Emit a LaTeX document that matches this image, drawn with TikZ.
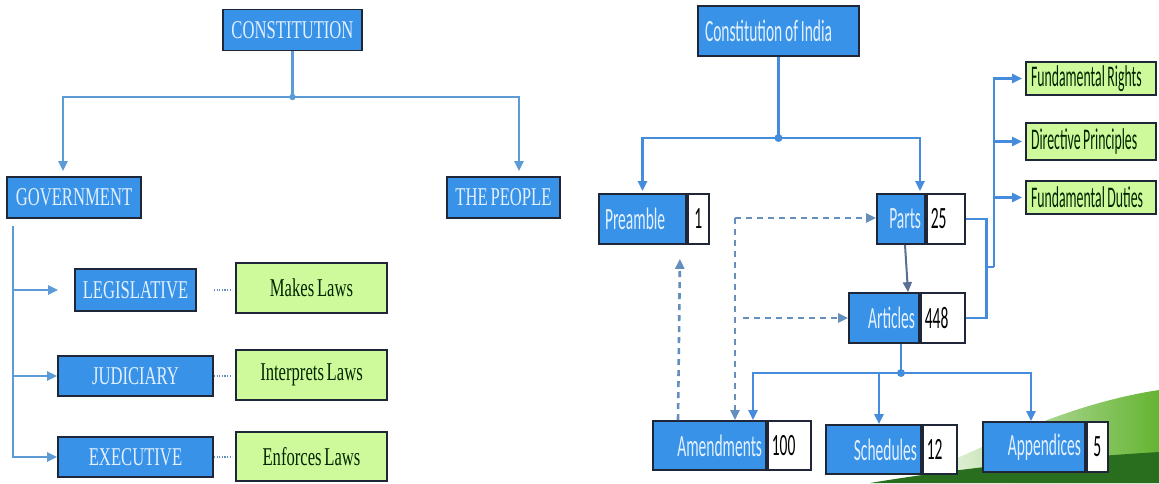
\documentclass[tikz,border=0pt]{standalone}
\usepackage{fontspec}
\usepackage{tikz}
\usetikzlibrary{positioning, arrows.meta, calc}
\newfontfamily\serifcond[FakeStretch=0.65, WordSpace=0.65]{Liberation Serif}
\newfontfamily\sanscond[FakeStretch=0.5, WordSpace=0.8]{Carlito}
\newfontfamily\sansnarrow[FakeStretch=0.46, WordSpace=0.8]{Carlito}
\definecolor{boxblue}{RGB}{56,146,232}
\definecolor{boxline}{RGB}{30,38,56}
\definecolor{lawgreen}{RGB}{207,250,155}
\definecolor{linkblue}{RGB}{70,140,220}
\definecolor{leftlink}{RGB}{92,155,213}
\definecolor{dashblue}{RGB}{100,142,188}
\definecolor{greylink}{RGB}{90,110,150}
\definecolor{paletext}{RGB}{226,240,255}
\definecolor{swooshdark}{RGB}{40,110,30}
\definecolor{swooshmid}{RGB}{100,180,50}

\begin{document}
\begin{tikzpicture}[x=0.5pt, y=-0.5pt, >={Triangle[length=5pt,width=4.5pt]},
  blue node/.style={draw=boxline, line width=0.9pt, fill=boxblue, text=paletext,
    font=\serifcond\fontsize{12.8}{14}\selectfont, inner sep=0pt, minimum height=20.5pt},
  law node/.style={draw=boxline, line width=0.9pt, fill=lawgreen, text=black!85!green,
    font=\serifcond\fontsize{12.8}{14}\selectfont, inner sep=0pt, minimum width=75.5pt, minimum height=25pt},
  part node/.style={draw=boxline, line width=0.9pt, fill=boxblue, text=paletext,
    font=\sanscond\fontsize{15.5}{18}\selectfont, inner xsep=2pt, inner ysep=0pt, minimum height=25pt,
    align=flush right},
  num node/.style={draw=boxline, line width=0.9pt, fill=white, text=black,
    font=\sanscond\fontsize{15.5}{18}\selectfont, inner xsep=2pt, inner ysep=0pt, minimum height=25pt,
    align=flush left, right=0pt of #1},
  duty node/.style={draw=boxline, line width=0.9pt, fill=lawgreen, text=black!85!green,
    font=\sansnarrow\fontsize{15}{17}\selectfont, align=flush left, text width=60pt, inner xsep=2.5pt, inner ysep=0pt},
  link/.style={draw=leftlink, line width=1.2pt},
  dot link/.style={draw=dashblue, line width=1.2pt, dash pattern=on 0.6pt off 0.7pt},
  rlink/.style={draw=linkblue, line width=1.3pt},
  dash link/.style={draw=dashblue, line width=1.3pt, dash pattern=on 3pt off 2.5pt},
  grey link/.style={draw=greylink, line width=1pt}]

\useasboundingbox (0,0) rectangle (1159,483);

% green swoosh in the corner
\shade[left color=white, right color=swooshmid] (900,483) .. controls (980,450) and (1060,405) .. (1159,390) -- (1159,483) -- cycle;
\fill[swooshdark] (870,483) .. controls (960,468) and (1060,458) .. (1159,452) -- (1159,483) -- cycle;

% left chart
\node[blue node, minimum width=69.5pt] (con) at (292.5,30) {CONSTITUTION};
\node[blue node, minimum width=67pt] (gov) at (74,197.5) {GOVERNMENT};
\node[blue node, minimum width=56.5pt] (ppl) at (503.5,197.5) {THE PEOPLE};
\node[blue node, minimum width=60.5pt, minimum height=21pt] (leg) at (135.5,290) {LEGISLATIVE};
\node[blue node, minimum width=77.5pt, minimum height=20pt] (jud) at (135.5,376) {JUDICIARY};
\node[blue node, minimum width=77.5pt, minimum height=20pt] (exe) at (135.5,457) {EXECUTIVE};
\node[law node] (mk) at (311.5,288) {Makes Laws};
\node[law node] (ip) at (311.5,375) {Interprets Laws};
\node[law node, minimum height=24.5pt] (ef) at (311.5,456.5) {Enforces Laws};

\coordinate (cj) at (292.5,97);
\draw[link] (con) -- (cj);
\draw[link,->] (cj) -| ([xshift=-5.5pt,yshift=2.5pt]gov.north);
\draw[link,->] (cj) -| ([xshift=7.75pt,yshift=2.5pt]ppl.north);
\fill[leftlink] (cj) circle (1.6pt);

\coordinate (gb) at (13,226);
\draw[link,->] (gb) |- (exe.west);
\draw[link,->] (gb |- jud.west) -- (jud.west);
\draw[link,->] (gb |- leg.west) -- ([xshift=-8pt]leg.west);
\draw[dot link] ([xshift=8.5pt]leg.east) -- ($(mk.west |- leg.east)+(-3,0)$);
\draw[dot link] (jud.east) -- ($(ip.west |- jud.east)+(-3,0)$);
\draw[dot link] (exe.east) -- ($(ef.west |- exe.east)+(-3,0)$);

% right chart
\node[part node, text width=73.5pt, inner xsep=3.5pt, align=flush left] (coi) at (778.5,31) {Constitution of India};
\node[part node, text width=37.5pt, inner xsep=3pt, align=flush left] (pre) at (642.5,219) {Preamble};
\node[num node=pre, text width=6.5pt, align=flush center] (pren) {1};
\node[part node, text width=20pt] (par) at (901,219) {Parts};
\node[num node=par, text width=15pt] (parn) {25};
\node[part node, text width=31pt] (art) at (884,318) {Articles};
\node[num node=art, text width=18pt] (artn) {448};
\node[part node, text width=52.5pt, minimum height=24.5pt] (amd) at (709.5,445.5) {Amendments};
\node[num node=amd, text width=17.5pt, minimum height=24.5pt] (amdn) {100};
\node[part node, text width=43.5pt, minimum height=24.5pt] (sch) at (873.5,449.5) {Schedules};
\node[num node=sch, text width=13pt, minimum height=24.5pt] (schn) {12};
\node[part node, text width=47pt] (app) at (1034,447) {Appendices};
\node[num node=app, text width=6.5pt, align=flush center] (appn) {5};
\node[duty node, minimum height=16.5pt] (fr) at (1091,78.5) {Fundamental Rights};
\node[duty node, minimum height=18.5pt] (dp) at (1091,141.5) {Directive Principles};
\node[duty node, minimum height=16.5pt] (fd) at (1091,197.5) {Fundamental Duties};

\coordinate (ij) at (778.5,138);
\draw[rlink] (coi) -- (ij);
\draw[rlink,->,shorten >=1pt] (ij) -| (pre.north);
\draw[rlink,->,shorten >=1pt] (ij) -| ([xshift=9.5pt]par.north);
\fill[linkblue] (ij) circle (2pt);

\coordinate (db) at (994,267);
\draw[rlink,->,shorten >=1.5pt] (db) |- (fr.west);
\draw[rlink,->,shorten >=1.5pt] (db |- dp.west) -- (dp.west);
\draw[rlink,->,shorten >=1.5pt] (db |- fd.west) -- (fd.west);
\draw[rlink] (parn.east) -- ++(21,0) |- (db);
\draw[rlink] (artn.east) -- ++(21,0) |- (db);
\draw[grey link,->] ([xshift=2pt]par.south) -- ([xshift=12pt]art.north);

\coordinate (aj) at (901,373);
\draw[rlink] (aj |- art.south) -- (aj);
\draw[rlink,->] (aj) -| ([xshift=21.75pt]amd.north);
\draw[rlink,->] (aj) -| ([xshift=-1.5pt]app.north);
\draw[rlink,->] ($(sch.north |- aj)+(5.5,0)$) -- ([xshift=2.75pt]sch.north);
\fill[linkblue] (aj) circle (2pt);

\coordinate (dj) at (735,218);
\draw[dash link,->] (dj) -- (par.west |- dj);
\draw[dash link,->] (dj) -- ([xshift=12.75pt]amd.north);
\draw[dash link,->] ($(dj |- art.west)+(8,0)$) -- (art.west);
\draw[dash link,->] ([xshift=-15.75pt]amd.north) -- ([xshift=-3.5pt,yshift=-7pt]pre.south east);
\end{tikzpicture}
\end{document}
